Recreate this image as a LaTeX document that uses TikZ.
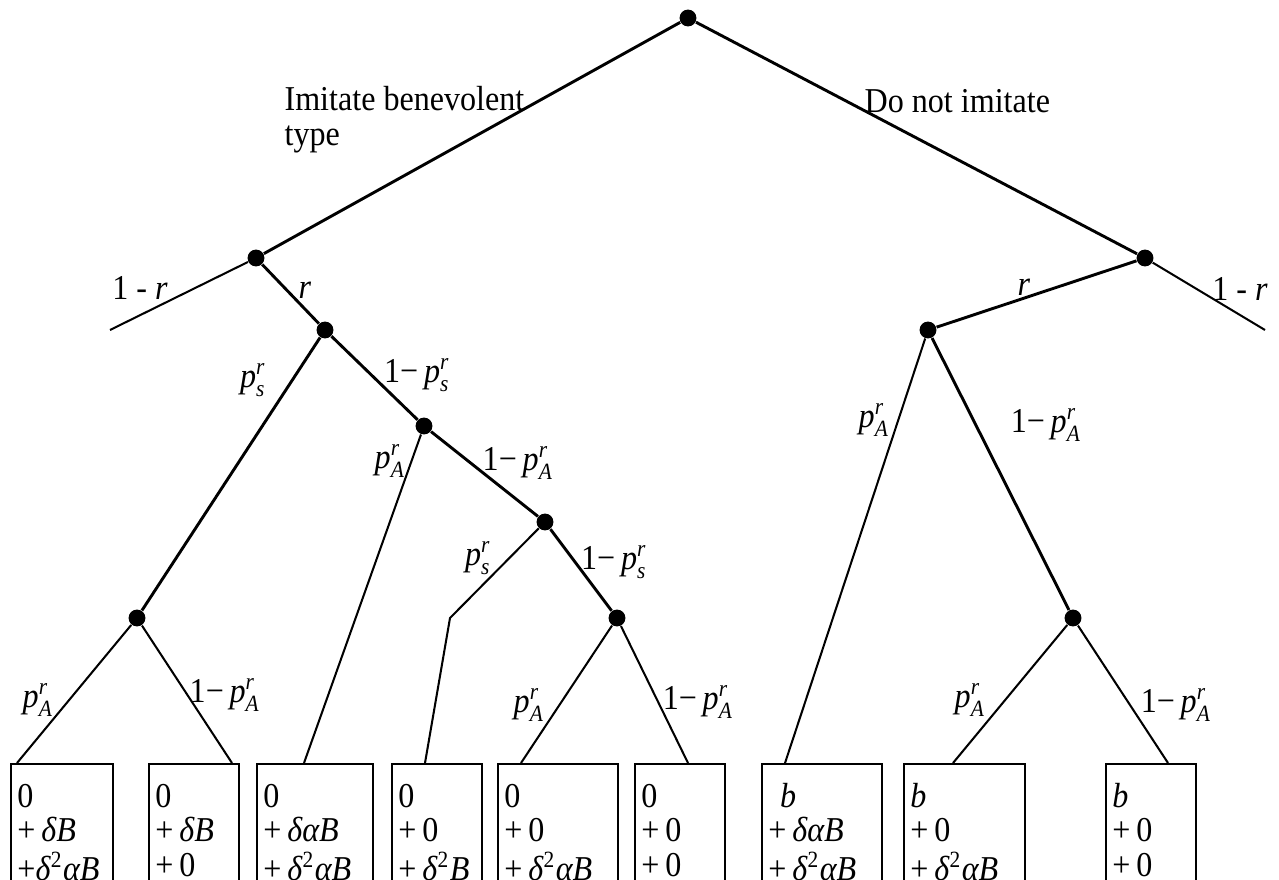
\documentclass[tikz,border=0pt]{standalone}
\usepackage{amsmath}
\usepackage{fontspec}
\setmainfont{Liberation Serif}[FakeStretch=0.92]
\usetikzlibrary{positioning}
\newcommand{\pbr}[1]{$\textit{p}^{\textit{r}}_{\textit{#1}}$}
\newcommand{\payoff}[3]{\begin{tabular}[t]{@{}l@{}}#1\\#2\\#3\end{tabular}}
\tikzset{dot/.style={circle,fill=black,inner sep=0pt,minimum size=5.8pt},
  branch/.style={line width=1pt},
  leaf/.style={line width=0.7pt},
  lab/.style={font=\fontsize{12}{12}\selectfont,inner sep=0pt},
  paybox/.style={draw,line width=0.7pt,anchor=north west,inner xsep=2.2pt,
    inner ysep=6.4pt,text depth=40pt,font=\fontsize{12}{12}\selectfont,text width=#1}}
\begin{document}
\begin{tikzpicture}[x=0.344pt,y=-0.344pt]
\useasboundingbox (0,0) rectangle (1279,879);
\clip (0,0) rectangle (1279,879);
\node[dot] (root) at (688,18) {};
\node[dot] (L) at (256,258) {};
\node[dot] (R) at (1145,258) {};
\node[dot] (Lr) at (325,330) {};
\node[dot] (La) at (424,426) {};
\node[dot] (Lb) at (545,522) {};
\node[dot] (Ls) at (137,618) {};
\node[dot] (Lc) at (617,618) {};
\node[dot] (Rr) at (928,330) {};
\node[dot] (Rb) at (1073,618) {};
\coordinate (Lend) at (110,330);
\coordinate (Rend) at (1265,330);
\coordinate (kink) at (450,618);
\node[paybox=30.7pt] (b1) at (10,763) {\payoff{0}{+\,\textit{δB}}{+\textit{δ}\textsuperscript{2}\textit{αB}}};
\node[paybox=26.6pt] (b2) at (148,763) {\payoff{0}{+\,\textit{δB}}{+\,0}};
\node[paybox=35.5pt] (b3) at (256,763) {\payoff{0}{+\,\textit{δαB}}{+\,\textit{δ}\textsuperscript{2}\textit{αB}}};
\node[paybox=26.6pt] (b4) at (391,763) {\payoff{0}{+\,0}{+\,\textit{δ}\textsuperscript{2}\textit{B}}};
\node[paybox=36.9pt] (b5) at (497,763) {\payoff{0}{+\,0}{+\,\textit{δ}\textsuperscript{2}\textit{αB}}};
\node[paybox=26.6pt] (b6) at (634,763) {\payoff{0}{+\,0}{+\,0}};
\node[paybox=36.9pt] (b7) at (761,763) {\payoff{\ \textit{b}}{+\,\textit{δαB}}{+\,\textit{δ}\textsuperscript{2}\textit{αB}}};
\node[paybox=37.2pt] (b8) at (903,763) {\payoff{\textit{b}}{+\,0}{+\,\textit{δ}\textsuperscript{2}\textit{αB}}};
\node[paybox=26.6pt] (b9) at (1105,763) {\payoff{\textit{b}}{+\,0}{+\,0}};
\node[lab,align=left,anchor=north west] (imit) at (284,86) {Imitate benevolent\\type};
\node[lab,anchor=base west] (noimit) at (864,112) {Do not imitate};
\node[lab] (lq) at (140,288) {1 - \textit{r}};
\node[lab] (lr) at (305,290) {\textit{r}};
\node[lab] (lps) at (253,380) {\pbr{s}};
\node[lab] (lqs) at (417,375) {1−\,\pbr{s}};
\node[lab] (lpa) at (390,461) {\pbr{A}};
\node[lab] (lqa) at (518,463) {1−\,\pbr{A}};
\node[lab] (lps2) at (478,558) {\pbr{s}};
\node[lab] (lqs2) at (614,562) {1−\,\pbr{s}};
\node[lab] (lpa2) at (38,700) {\pbr{A}};
\node[lab] (lqa2) at (225,695) {1−\,\pbr{A}};
\node[lab] (lpa3) at (529,705) {\pbr{A}};
\node[lab] (lqa3) at (698,702) {1−\,\pbr{A}};
\node[lab] (rr) at (1024,287) {\textit{r}};
\node[lab] (rq) at (1240,289) {1 - \textit{r}};
\node[lab] (rpa) at (874,420) {\pbr{A}};
\node[lab] (rqa) at (1046,425) {1−\,\pbr{A}};
\node[lab] (rpa2) at (970,700) {\pbr{A}};
\node[lab] (rqa2) at (1176,705) {1−\,\pbr{A}};
\draw[branch] (root) -- (L);
\draw[branch] (root) -- (R);
\draw[leaf] (L) -- (Lend);
\draw[branch] (L) -- (Lr);
\draw[branch] (Lr) -- (Ls);
\draw[branch] (Lr) -- (La);
\draw[branch] (La) -- (Lb);
\draw[branch] (Lb) -- (Lc);
\draw[leaf] (Ls) -- (b1.north -| 17,0);
\draw[leaf] (Ls) -- (b2.north -| 232,0);
\draw[leaf] (La) -- (b3.north -| 304,0);
\draw[leaf] (Lb) -- (kink) -- (b4.north -| 425,0);
\draw[leaf] (Lc) -- (b5.north -| 521,0);
\draw[leaf] (Lc) -- (b6.north -| 688,0);
\draw[leaf] (R) -- (Rend);
\draw[branch] (R) -- (Rr);
\draw[leaf] (Rr) -- (b7.north -| 785,0);
\draw[branch] (Rr) -- (Rb);
\draw[leaf] (Rb) -- (b8.north -| 953,0);
\draw[leaf] (Rb) -- (b9.north -| 1168,0);
\end{tikzpicture}
\end{document}
